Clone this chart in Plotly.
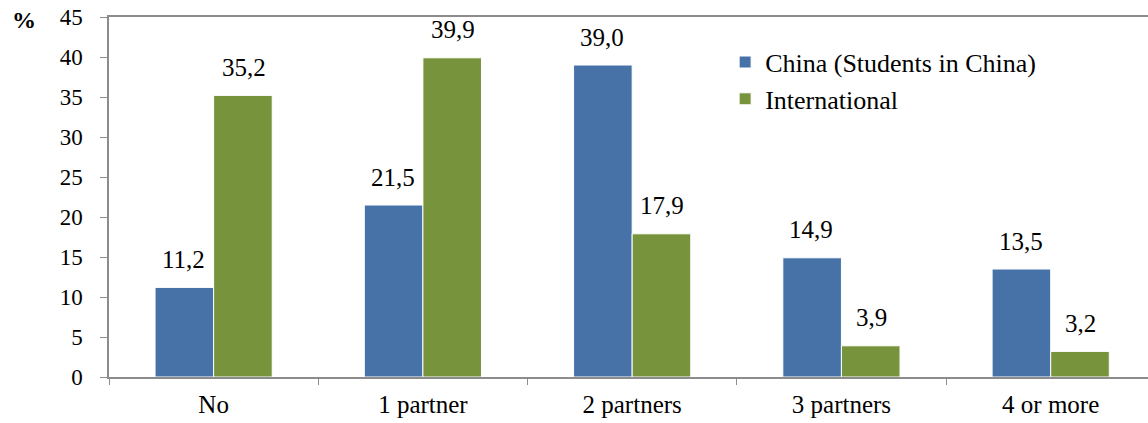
import plotly.graph_objects as go

categories = ["No", "1 partner", "2 partners", "3 partners", "4 or more"]
china = [11.2, 21.5, 39.0, 14.9, 13.5]
international = [35.2, 39.9, 17.9, 3.9, 3.2]
series_names = ["China (Students in China)", "International"]
y_ticks = [0, 5, 10, 15, 20, 25, 30, 35, 40, 45]

BLUE = "#4672A8"
GREEN = "#77933C"
FONT = "Times New Roman, Liberation Serif, DejaVu Serif, serif"

fig = go.Figure()
fig.add_trace(go.Bar(name=series_names[0], x=categories, y=china,
                     marker=dict(color=BLUE, line=dict(color="white", width=1))))
fig.add_trace(go.Bar(name=series_names[1], x=categories, y=international,
                     marker=dict(color=GREEN, line=dict(color="white", width=1))))

def fmt(v):
    return f"{v:.1f}".replace(".", ",")

for i, c in enumerate(categories):
    for j, (vals) in enumerate([china, international]):
        fig.add_annotation(x=c, y=vals[i], xref="x", yref="y",
                           text=fmt(vals[i]), showarrow=False,
                           xshift=(-30 if j == 0 else 30), yshift=28,
                           yanchor="middle",
                           font=dict(family=FONT, size=25, color="black"))

fig.add_annotation(x=0, y=45, xref="paper", yref="y", text="<b>%</b>",
                   showarrow=False, xanchor="center", yanchor="middle",
                   xshift=-85, yshift=-3,
                   font=dict(family=FONT, size=24, color="black"))

fig.update_layout(
    width=1148, height=423,
    margin=dict(l=109, r=0, t=17, b=46),
    paper_bgcolor="white", plot_bgcolor="white",
    barmode="group", bargap=0.44, bargroupgap=0,
    showlegend=True,
    legend=dict(x=0.593, y=0.94, xanchor="left", yanchor="top",
                font=dict(family=FONT, size=26, color="black"),
                bgcolor="rgba(0,0,0,0)", tracegroupgap=0),
    font=dict(family=FONT, color="black"),
)
fig.update_xaxes(range=[-0.5, 4.465], showline=True, linecolor="#8C8C8C", linewidth=1.5,
                 mirror=True, ticks="outside", tickson="boundaries", ticklen=6,
                 tickcolor="#8C8C8C", showgrid=False, zeroline=False,
                 ticklabelstandoff=4,
                 tickfont=dict(family=FONT, size=25, color="black"))
fig.update_yaxes(range=[0, 45], tickvals=y_ticks, showline=True, linecolor="#8C8C8C",
                 linewidth=1.5, ticks="outside", ticklen=7, tickcolor="#8C8C8C",
                 showgrid=False, zeroline=False, ticklabelstandoff=13,
                 tickfont=dict(family=FONT, size=23, color="black"))

fig.write_html("out.html")
